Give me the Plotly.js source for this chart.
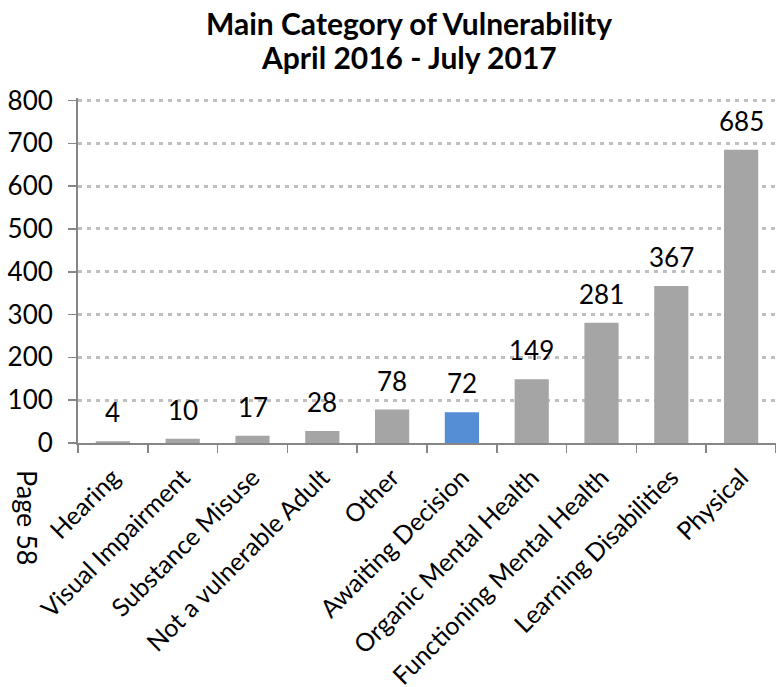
<!DOCTYPE html>
<html>
<head>
<meta charset="utf-8">
<script src="https://cdn.plot.ly/plotly-3.0.1.min.js"></script>
<style>
html,body{margin:0;padding:0;background:#fff;}
#chart{width:776px;height:687px;}
</style>
</head>
<body>
<div id="chart"></div>
<script>
const categories = ["Hearing","Visual Impairment","Substance Misuse","Not a vulnerable Adult","Other","Awaiting Decision","Organic Mental Health","Functioning Mental Health","Learning Disabilities","Physical"];
const values = [4, 10, 17, 28, 78, 72, 149, 281, 367, 685];
const highlight = "Awaiting Decision";
const yTicks = [0,100,200,300,400,500,600,700,800];
const titleLines = ["Main Category of Vulnerability","April 2016 - July 2017"];
const pageLabel = "Page 58";

const FONT = "Lato, Calibri, sans-serif";
const colors = categories.map(c => c === highlight ? "#558ED5" : "#A5A5A5");

const trace = {
  type: "bar",
  x: categories,
  y: values,
  marker: {color: colors, line: {width: 0}},
  hoverinfo: "none"
};

const valueLabels = categories.map((c, i) => ({
  x: c, y: values[i], xref: "x", yref: "y",
  text: String(values[i]),
  showarrow: false, xanchor: "center", yanchor: "bottom",
  yshift: 11,
  font: {family: FONT, size: 26, color: "#000"}
}));

const PH = 345; // plot height in px
const py = p => (443 - p) / PH; // pixel row -> paper y

const titleAnn = titleLines.map((t, i) => ({
  text: "<b>" + t + "</b>",
  xref: "paper", yref: "paper",
  x: (409 - 78) / 698, y: py(23 + i * 34),
  xanchor: "center", yanchor: "middle",
  showarrow: false,
  font: {family: FONT, size: 30, color: "#000"}
}));

const layout = {
  width: 776, height: 687,
  margin: {l: 78, r: 0, t: 98, b: 244},
  paper_bgcolor: "#fff", plot_bgcolor: "#fff",
  bargap: 0.51,
  showlegend: false,
  xaxis: {
    type: "category",
    tickangle: -45,
    tickfont: {family: FONT, size: 25, color: "#000"},
    ticklabelstandoff: 8,
    showline: true, linecolor: "#868686", linewidth: 2,
    ticks: "outside", ticklen: 8, tickwidth: 1.5, tickcolor: "#868686",
    tickson: "boundaries",
    showgrid: false, zeroline: false,
    automargin: false
  },
  yaxis: {
    range: [0, 806],
    tickvals: yTicks,
    ticktext: yTicks.map(String),
    tickfont: {family: FONT, size: 26, color: "#000"},
    ticklabelstandoff: 10,
    showline: true, linecolor: "#868686", linewidth: 2,
    ticks: "outside", ticklen: 8, tickwidth: 1.5, tickcolor: "#868686",
    showgrid: true, gridcolor: "#BFBFBF", gridwidth: 3, griddash: "4px,5px",
    zeroline: false,
    automargin: false
  },
  annotations: valueLabels.concat(titleAnn, [{
    text: pageLabel,
    xref: "paper", yref: "paper",
    x: (28 - 78) / 698, y: py(518),
    xanchor: "center", yanchor: "middle",
    textangle: 90,
    showarrow: false,
    font: {family: FONT, size: 27, color: "#000"}
  }])
};

Plotly.newPlot("chart", [trace], layout, {displayModeBar: false, staticPlot: true});
</script>
</body>
</html>
